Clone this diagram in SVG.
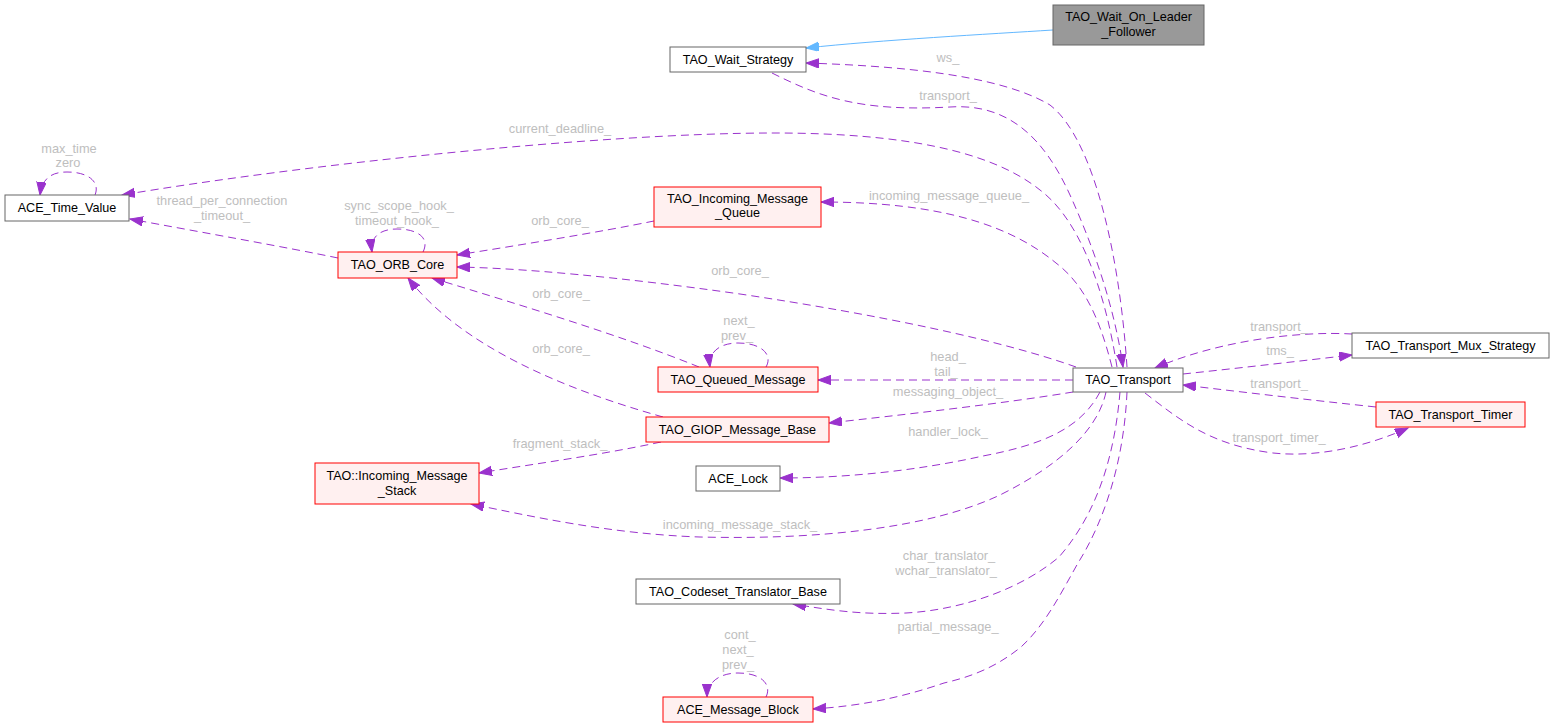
<svg xmlns="http://www.w3.org/2000/svg" width="1555" height="727" viewBox="0 0 1555 727">
<defs>
<style>
.n rect{fill:#ffffff;stroke:#666666;stroke-width:1}
.r rect{fill:#fff0f0;stroke:#ff0000;stroke-width:1}
.root rect{fill:#999999;stroke:#666666;stroke-width:1}
.n text,.r text,.root text{font-family:"Liberation Sans",Arial,sans-serif;font-size:12.6px;fill:#000000;text-anchor:middle}
.e path{fill:none;stroke:#9a32cd;stroke-width:1;stroke-dasharray:8,5;marker-end:url(#ap)}
.e path.inh{stroke:#63b8ff;stroke-dasharray:none;marker-end:url(#ab)}
.lbl{font-family:"Liberation Sans",Arial,sans-serif;font-size:12.8px;fill:#bebebe;text-anchor:middle}
</style>
<marker id="ap" markerUnits="userSpaceOnUse" markerWidth="16" markerHeight="12" refX="13" refY="4.7" orient="auto">
<path d="M0,0 L13,4.7 L0,9.4 z" fill="#9a32cd" stroke="#9a32cd" stroke-width="1"/>
</marker>
<marker id="ab" markerUnits="userSpaceOnUse" markerWidth="16" markerHeight="12" refX="13" refY="4.7" orient="auto">
<path d="M0,0 L13,4.7 L0,9.4 z" fill="#63b8ff" stroke="#63b8ff" stroke-width="1"/>
</marker>
</defs>
<rect x="0" y="0" width="1555" height="727" fill="#ffffff"/>

<g id="connectors" class="e">
<path class="inh" d="M1053,30 C990,34 880,40 806,48"/>
<path d="M1127,367 C1120,260 1095,140 1050,105 C1000,75 900,66 806,63"/>
<path d="M772,73 C820,97 860,112 950,107 C1010,103 1045,140 1070,195 C1095,250 1115,310 1123,367"/>
<path d="M1117,367 C1105,290 1080,220 1040,190 C990,150 900,133 774,133 C600,133 300,165 122,195"/>
<path d="M338,258 C290,248 200,232 130,219"/>
<path d="M95,195 C100,183 90,172 67,172 C52,172 42,178 40,195"/>
<path d="M423,252 C430,238 418,229 397,229 C380,229 370,237 372,252"/>
<path d="M654,221 C600,232 520,245 457,255"/>
<path d="M1112,367 C1100,320 1085,285 1056,263 C1010,225 940,202 821,202"/>
<path d="M1076,367 C1000,340 880,315 740,294 C620,277 520,268 457,267"/>
<path d="M699,367 C620,335 520,305 432,278"/>
<path d="M663,417 C560,388 460,345 408,278"/>
<path d="M766,367 C773,355 762,343 738,343 C720,343 708,352 710,367"/>
<path d="M1073,380 L818,380"/>
<path d="M1073,392 C1000,404 900,415 829,423"/>
<path d="M661,442 C600,455 540,463 479,473"/>
<path d="M1100,392 C1080,430 1040,445 983,456 C920,470 850,478 780,478"/>
<path d="M1106,392 C1098,430 1060,465 1000,495 C930,528 820,540 700,537 C610,534 530,516 471,504"/>
<path d="M1120,392 C1115,450 1100,510 1059,557 C1020,590 960,610 906,613 C860,615 830,610 793,604"/>
<path d="M1127,392 C1124,460 1105,520 1078,563 C1060,595 1045,625 1021,647 C995,668 970,677 944,683 C900,698 860,706 813,709"/>
<path d="M766,697 C772,685 762,673 738,673 C720,673 707,682 707,697"/>
<path d="M1352,334 C1300,331 1220,340 1155,368"/>
<path d="M1183,374 C1240,368 1300,361 1352,355"/>
<path d="M1376,407 C1310,400 1250,393 1183,385"/>
<path d="M1145,393 C1180,420 1210,445 1273,453 C1320,458 1370,445 1408,428"/>
</g>

<g id="edge-labels">
<text class="lbl" x="948" y="62">ws_</text>
<text class="lbl" x="948" y="100">transport_</text>
<text class="lbl" x="560" y="133">current_deadline_</text>
<text class="lbl" x="69" y="153">max_time</text>
<text class="lbl" x="68" y="167">zero</text>
<text class="lbl" x="222" y="205">thread_per_connection</text>
<text class="lbl" x="222" y="220">_timeout_</text>
<text class="lbl" x="399" y="210">sync_scope_hook_</text>
<text class="lbl" x="397" y="225">timeout_hook_</text>
<text class="lbl" x="560" y="225">orb_core_</text>
<text class="lbl" x="949" y="200">incoming_message_queue_</text>
<text class="lbl" x="740" y="275">orb_core_</text>
<text class="lbl" x="561" y="298">orb_core_</text>
<text class="lbl" x="561" y="353">orb_core_</text>
<text class="lbl" x="739" y="325">next_</text>
<text class="lbl" x="737" y="340">prev_</text>
<text class="lbl" x="948" y="361">head_</text>
<text class="lbl" x="946" y="376">tail_</text>
<text class="lbl" x="948" y="396">messaging_object_</text>
<text class="lbl" x="948" y="436">handler_lock_</text>
<text class="lbl" x="560" y="448">fragment_stack_</text>
<text class="lbl" x="740" y="529">incoming_message_stack_</text>
<text class="lbl" x="949" y="560">char_translator_</text>
<text class="lbl" x="946" y="575">wchar_translator_</text>
<text class="lbl" x="948" y="631">partial_message_</text>
<text class="lbl" x="740" y="639">cont_</text>
<text class="lbl" x="738" y="654">next_</text>
<text class="lbl" x="738" y="669">prev_</text>
<text class="lbl" x="1279" y="331">transport_</text>
<text class="lbl" x="1280" y="355">tms_</text>
<text class="lbl" x="1279" y="388">transport_</text>
<text class="lbl" x="1279" y="442">transport_timer_</text>
</g>

<g id="node-TAO_Wait_On_Leader_Follower" class="root">
<rect x="1053" y="5" width="151" height="40"/>
<text x="1128.5" y="21">TAO_Wait_On_Leader</text>
<text x="1128.5" y="36">_Follower</text>
</g>
<g id="node-TAO_Wait_Strategy" class="n">
<rect x="670" y="47" width="136" height="25"/>
<text x="738" y="64">TAO_Wait_Strategy</text>
</g>
<g id="node-ACE_Time_Value" class="n">
<rect x="5" y="195" width="124" height="26"/>
<text x="67" y="212">ACE_Time_Value</text>
</g>
<g id="node-TAO_ORB_Core" class="r">
<rect x="338" y="252" width="119" height="26"/>
<text x="397.5" y="269">TAO_ORB_Core</text>
</g>
<g id="node-TAO_Incoming_Message_Queue" class="r">
<rect x="654" y="187" width="167" height="40"/>
<text x="737.5" y="203">TAO_Incoming_Message</text>
<text x="737.5" y="217">_Queue</text>
</g>
<g id="node-TAO_Queued_Message" class="r">
<rect x="658" y="367" width="160" height="25"/>
<text x="738" y="384">TAO_Queued_Message</text>
</g>
<g id="node-TAO_GIOP_Message_Base" class="r">
<rect x="646" y="417" width="183" height="25"/>
<text x="737.5" y="434">TAO_GIOP_Message_Base</text>
</g>
<g id="node-TAO_Incoming_Message_Stack" class="r">
<rect x="315" y="463" width="164" height="41"/>
<text x="397" y="480">TAO::Incoming_Message</text>
<text x="397" y="495">_Stack</text>
</g>
<g id="node-ACE_Lock" class="n">
<rect x="696" y="466" width="84" height="25"/>
<text x="738" y="483">ACE_Lock</text>
</g>
<g id="node-TAO_Codeset_Translator_Base" class="n">
<rect x="636" y="579" width="204" height="25"/>
<text x="738" y="596">TAO_Codeset_Translator_Base</text>
</g>
<g id="node-ACE_Message_Block" class="r">
<rect x="663" y="697" width="150" height="25"/>
<text x="738" y="714">ACE_Message_Block</text>
</g>
<g id="node-TAO_Transport" class="n">
<rect x="1073" y="368" width="110" height="24"/>
<text x="1128" y="384">TAO_Transport</text>
</g>
<g id="node-TAO_Transport_Mux_Strategy" class="n">
<rect x="1352" y="333" width="197" height="25"/>
<text x="1450.5" y="350">TAO_Transport_Mux_Strategy</text>
</g>
<g id="node-TAO_Transport_Timer" class="r">
<rect x="1376" y="402" width="149" height="25"/>
<text x="1450.5" y="419">TAO_Transport_Timer</text>
</g>
</svg>
